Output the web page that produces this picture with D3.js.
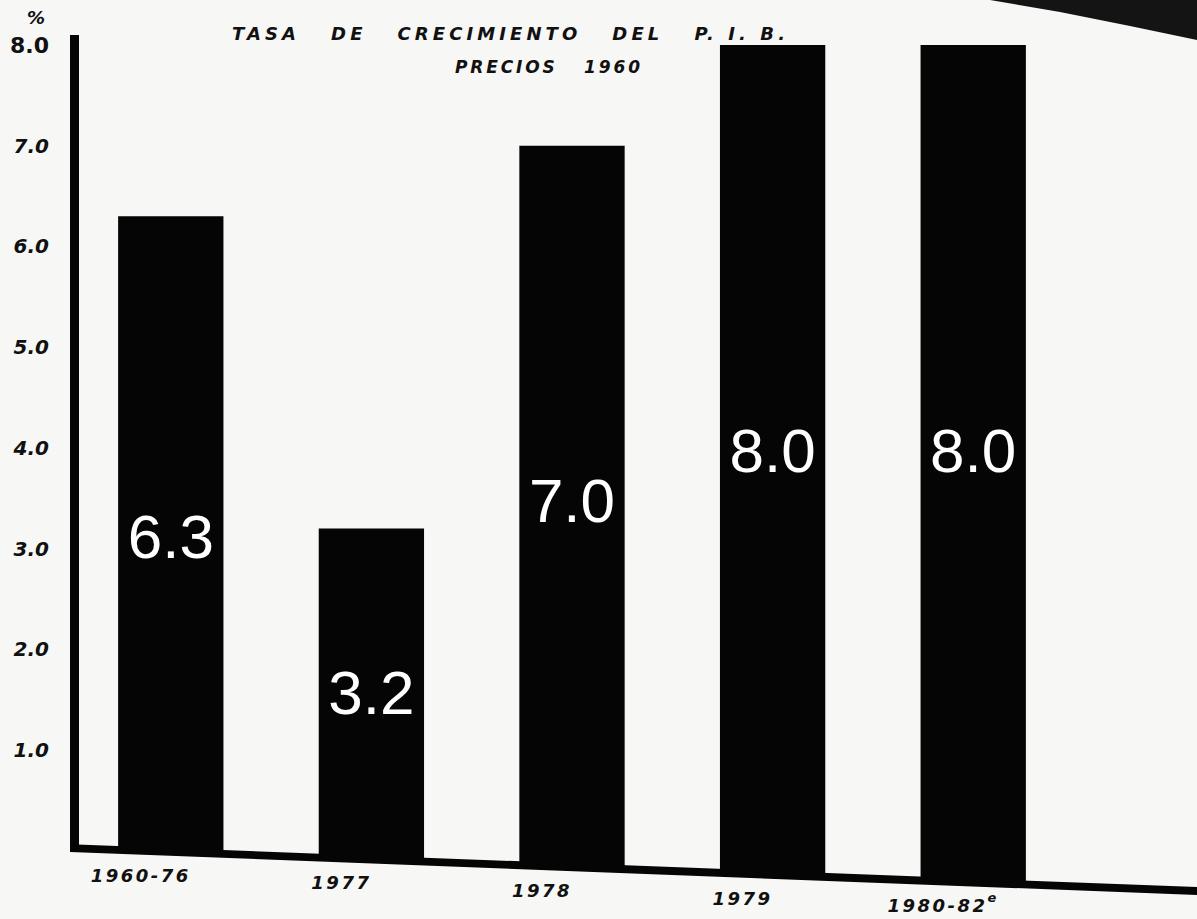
<!DOCTYPE html>
<html>
<head>
<meta charset="utf-8">
<script src="https://cdn.jsdelivr.net/npm/d3@7"></script>
<style>
  html, body { margin: 0; padding: 0; background: #f7f7f6; }
  svg { display: block; }
  text { white-space: pre; }
</style>
</head>
<body>
<svg id="chart" width="1197" height="919"></svg>
<script>
// Tasa de crecimiento del P.I.B. (precios de 1960), %
const periods = ["1960-76", "1977", "1978", "1979", "1980-82"];
const periodNotes = ["", "", "", "", "e"];
const growth = [6.3, 3.2, 7.0, 8.0, 8.0];
const growthLabels = ["6.3", "3.2", "7.0", "8.0", "8.0"];
const yTicks = [1, 2, 3, 4, 5, 6, 7, 8];
const titleLines = ["TASA   DE   CRECIMIENTO   DEL   P. I. B.", "PRECIOS   1960"];
const unitLabel = "%";

const W = 1197, H = 919;
const svg = d3.select("#chart");
const hand = "'DejaVu Sans', sans-serif";

svg.append("rect").attr("width", W).attr("height", H).attr("fill", "#f7f7f6");

// dark page edge, top right
svg.append("path")
  .attr("d", "M990,0 L1197,0 L1197,40 L1130,26 L1060,12 Z")
  .attr("fill", "#141414");

// scales
const x = d3.scaleBand()
  .domain(periods)
  .range([78, 1066])
  .paddingInner(0.475)
  .paddingOuter(0.2);

const y = d3.scaleLinear().domain([0, 8]).range([851, 45]);

// the hand-drawn base line runs slightly downhill to the right
const base = d3.scaleLinear().domain([73, 1197]).range([848, 891]);

// bars: flat tops at the value, bottoms resting on the base line
const rows = periods.map((p, i) => ({ p, v: growth[i], label: growthLabels[i], note: periodNotes[i] }));

svg.append("g").selectAll("path")
  .data(rows)
  .join("path")
  .attr("fill", "#050505")
  .attr("d", d => {
    const x0 = x(d.p), x1 = x(d.p) + x.bandwidth();
    return `M${x0},${y(d.v)} L${x1},${y(d.v)} L${x1},${base(x1)} L${x0},${base(x0)} Z`;
  });

// value labels inside the bars
svg.append("g").selectAll("text")
  .data(rows)
  .join("text")
  .attr("x", d => x(d.p) + x.bandwidth() / 2)
  .attr("y", d => y(d.v / 2) + 24)
  .attr("text-anchor", "middle")
  .attr("fill", "#ffffff")
  .attr("font-family", "'Liberation Sans', Arial, sans-serif")
  .attr("font-size", 62)
  .text(d => d.label);

// vertical axis: heavy rule plus lettered ticks
svg.append("rect")
  .attr("x", 70).attr("y", 35)
  .attr("width", 9).attr("height", 817)
  .attr("fill", "#050505");

const yAxis = d3.axisLeft(y)
  .tickValues(yTicks)
  .tickFormat(d3.format(".1f"))
  .tickSize(0)
  .tickPadding(25);

const gy = svg.append("g").attr("transform", "translate(74,0)").call(yAxis);
gy.select(".domain").remove();
gy.selectAll("text")
  .attr("font-family", hand)
  .attr("font-weight", "bold")
  .attr("font-size", d => d === 8 ? 22 : 20)
  .attr("font-style", d => d === 8 ? "normal" : "italic")
  .attr("fill", "#111");

svg.append("text")
  .attr("x", 36).attr("y", 24)
  .attr("text-anchor", "middle")
  .attr("font-family", hand)
  .attr("font-weight", "bold")
  .attr("font-style", "italic")
  .attr("font-size", 18)
  .attr("fill", "#111")
  .text(unitLabel);

// horizontal axis: heavy sloping rule
const xa0 = 73, xa1 = W;
svg.append("path")
  .attr("d", `M${xa0 - 3},${base(xa0) + 4} L${xa0 + 4},${base(xa0) - 3.5} L${xa1},${base(xa1) - 4} L${xa1},${base(xa1) + 4} Z`)
  .attr("fill", "#050505");

// category labels under the axis
const xl = svg.append("g").selectAll("text")
  .data(rows)
  .join("text")
  .attr("x", d => x(d.p) + x.bandwidth() / 2 - 30)
  .attr("y", d => base(x(d.p) + x.bandwidth() / 2 - 30) + 31)
  .attr("text-anchor", "middle")
  .attr("font-family", hand)
  .attr("font-weight", "bold")
  .attr("font-style", "italic")
  .attr("font-size", 18)
  .attr("letter-spacing", 2.5)
  .attr("fill", "#111");
xl.append("tspan").text(d => d.p);
xl.append("tspan")
  .attr("dy", -10)
  .attr("font-size", 13)
  .text(d => d.note);

// title
svg.append("text")
  .attr("x", 232).attr("y", 40)
  .attr("font-family", hand)
  .attr("font-weight", "bold")
  .attr("font-style", "italic")
  .attr("font-size", 18)
  .attr("textLength", 553)
  .attr("lengthAdjust", "spacing")
  .attr("fill", "#111")
  .text(titleLines[0]);

svg.append("text")
  .attr("x", 455).attr("y", 73)
  .attr("font-family", hand)
  .attr("font-weight", "bold")
  .attr("font-style", "italic")
  .attr("font-size", 17)
  .attr("textLength", 185)
  .attr("lengthAdjust", "spacing")
  .attr("fill", "#111")
  .text(titleLines[1]);
</script>
</body>
</html>
